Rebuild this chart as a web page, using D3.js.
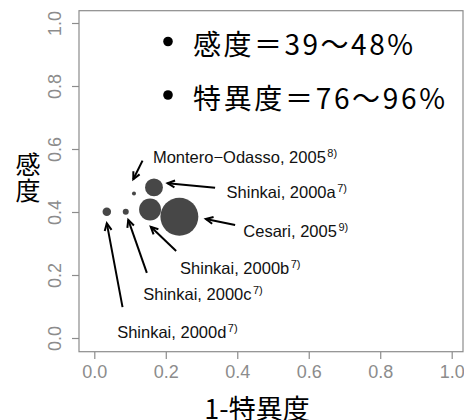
<!DOCTYPE html>
<html><head><meta charset="utf-8">
<script src="https://cdn.jsdelivr.net/npm/d3@7/dist/d3.min.js"></script>
<style>body{margin:0;background:#fff}svg{display:block}</style>
</head><body>
<script>
// Data
const studies = ["Shinkai, 2000d", "Shinkai, 2000c", "Montero-Odasso, 2005", "Shinkai, 2000a", "Shinkai, 2000b", "Cesari, 2005"];
const refs = ["7)", "7)", "8)", "7)", "7)", "9)"];
const oneMinusSpec = [0.035, 0.088, 0.111, 0.167, 0.156, 0.238];
const sensitivity = [0.401, 0.401, 0.459, 0.478, 0.408, 0.385];
const weights = [18, 9, 4, 80, 120, 360];
const xTicks = [0, 0.2, 0.4, 0.6, 0.8, 1.0];
const yTicks = [0, 0.2, 0.4, 0.6, 0.8, 1.0];
const legendLines = ["感度＝39～48%", "特異度＝76～96%"];
// annotation label anchors and arrow (from -> to), in data units
const labelPos = [[0.064, 0.0], [0.137, 0.121], [0.164, 0.555], [0.370, 0.446], [0.240, 0.203], [0.417, 0.321]];
const arrowFrom = [[0.079, 0.098], [0.147, 0.207], [0.135, 0.563], [0.338, 0.477], [0.229, 0.276], [0.394, 0.359]];
const arrowTo = [[0.035, 0.364], [0.095, 0.375], [0.109, 0.504], [0.205, 0.491], [0.158, 0.353], [0.312, 0.378]];

const W = 464, H = 420;
const svg = d3.select("body").append("svg").attr("width", W).attr("height", H);
const x = d3.scaleLinear().domain([0, 1]).range([94.3, 451.7]);
const y = d3.scaleLinear().domain([0, 1]).range([338, 23]);
const r = d3.scaleSqrt().domain([0, 361]).range([0, 19]);
const gray = "#8c8c8c";
const latin = "'Liberation Sans', Arial, sans-serif";
const cjk = "'Noto Sans CJK JP', sans-serif";

// box
svg.append("rect").attr("x", 79).attr("y", 10.7).attr("width", 384).attr("height", 341)
  .attr("fill", "none").attr("stroke", gray).attr("stroke-width", 1.2);

// x axis
const gx = svg.append("g").attr("transform", "translate(0,352)")
  .call(d3.axisBottom(x).tickValues(xTicks).tickFormat(d3.format(".1f")).tickSize(7).tickPadding(6));
gx.select(".domain").remove();
gx.selectAll("line").attr("stroke", gray).attr("stroke-width", 1.2);
gx.selectAll("text").attr("fill", gray).style("font-family", latin).style("font-size", "18px");

// y axis
const gy = svg.append("g").attr("transform", "translate(79,0)")
  .call(d3.axisLeft(y).tickValues(yTicks).tickFormat(d3.format(".1f")).tickSize(7).tickPadding(0));
gy.select(".domain").remove();
gy.selectAll("line").attr("stroke", gray).attr("stroke-width", 1.2);
gy.selectAll("text").attr("fill", gray).style("font-family", latin).style("font-size", "18px")
  .attr("text-anchor", "middle").attr("x", 0).attr("dy", 0)
  .attr("transform", "translate(-24,0) rotate(-90)").attr("dominant-baseline", "central");

// titles
svg.append("text").attr("x", 257).attr("y", 419).attr("text-anchor", "middle")
  .style("font-family", cjk).style("font-size", "27px").text("1-特異度");
svg.append("text").attr("x", 28).attr("y", 174).attr("text-anchor", "middle")
  .style("font-family", cjk).style("font-size", "25px").text("感");
svg.append("text").attr("x", 28).attr("y", 200).attr("text-anchor", "middle")
  .style("font-family", cjk).style("font-size", "25px").text("度");

// legend
const legendWidths = [220, 252];
legendLines.forEach((t, i) => {
  svg.append("circle").attr("cx", 168).attr("cy", 41.5 + i * 53.5).attr("r", 4.8).attr("fill", "#000");
  svg.append("text").attr("x", 193).attr("y", 55 + i * 53.5)
    .attr("textLength", legendWidths[i]).attr("lengthAdjust", "spacing")
    .style("font-family", cjk).style("font-size", "28px").text(t);
});

// points
const idx = d3.range(studies.length);
svg.append("g").selectAll("circle").data(idx).join("circle")
  .attr("cx", i => x(oneMinusSpec[i])).attr("cy", i => y(sensitivity[i]))
  .attr("r", i => r(weights[i])).attr("fill", "#474747");

// arrows
const ag = svg.append("g").attr("stroke", "#000").attr("stroke-width", 2).attr("fill", "none");
idx.forEach(i => {
  const x1 = x(arrowFrom[i][0]), y1 = y(arrowFrom[i][1]);
  const x2 = x(arrowTo[i][0]), y2 = y(arrowTo[i][1]);
  ag.append("line").attr("x1", x1).attr("y1", y1).attr("x2", x2).attr("y2", y2);
  const a = Math.atan2(y2 - y1, x2 - x1), L = 8, sp = Math.PI / 7;
  const p1 = [x2 - L * Math.cos(a - sp), y2 - L * Math.sin(a - sp)];
  const p2 = [x2 - L * Math.cos(a + sp), y2 - L * Math.sin(a + sp)];
  ag.append("path").attr("d", `M${p1}L${x2},${y2}L${p2}`).attr("stroke-linejoin", "miter");
});

// labels
idx.forEach(i => {
  const t = svg.append("text").attr("x", x(labelPos[i][0])).attr("y", y(labelPos[i][1]))
    .style("font-family", latin).style("font-size", "16.5px").attr("fill", "#111");
  t.append("tspan").text(studies[i].replace("-", "\u2212"));
  t.append("tspan").attr("dy", -6).attr("dx", 1.5).style("font-size", "11px").text(refs[i]);
});
</script>
</body></html>
